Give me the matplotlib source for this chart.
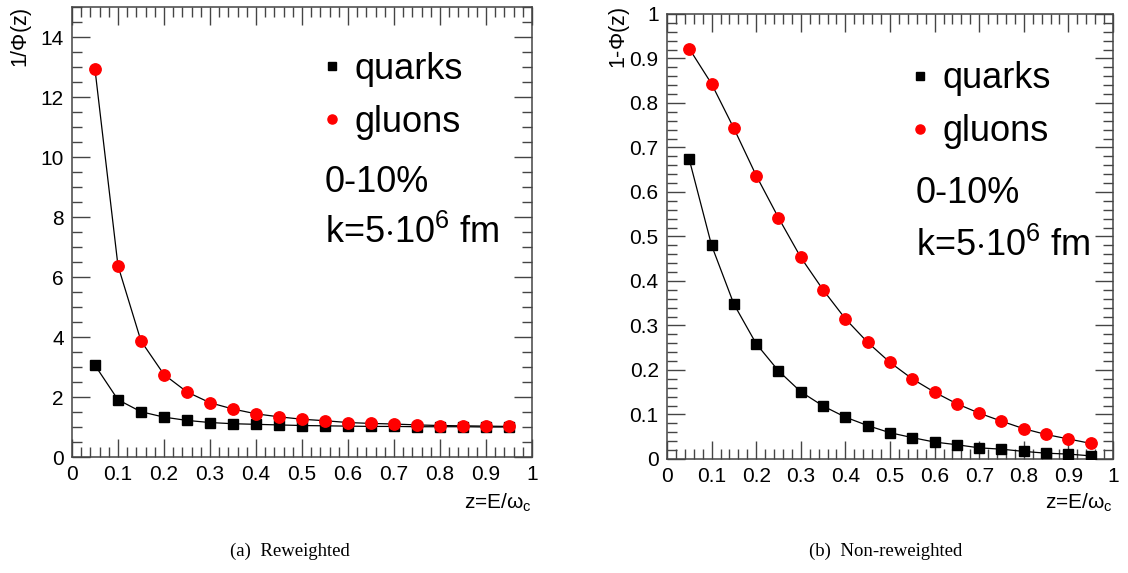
import matplotlib
matplotlib.use("Agg")
from matplotlib import pyplot as plt
from matplotlib.ticker import MultipleLocator, FuncFormatter

plt.rcParams['font.family'] = ['Liberation Sans', 'DejaVu Sans']
plt.rcParams['mathtext.fontset'] = 'custom'
plt.rcParams['mathtext.rm'] = 'Liberation Sans'
plt.rcParams['mathtext.it'] = 'Liberation Sans:italic'

z = [0.05, 0.10, 0.15, 0.20, 0.25, 0.30, 0.35, 0.40, 0.45, 0.50,
     0.55, 0.60, 0.65, 0.70, 0.75, 0.80, 0.85, 0.90, 0.95]

# (a) reweighted: 1/Phi(z)
rw_quarks = [3.06, 1.91, 1.51, 1.33, 1.22, 1.15, 1.11, 1.09, 1.07, 1.05,
             1.04, 1.03, 1.02, 1.02, 1.01, 1.01, 1.01, 1.00, 1.00]
rw_gluons = [12.93, 6.38, 3.87, 2.75, 2.17, 1.81, 1.60, 1.44, 1.34, 1.26,
             1.21, 1.15, 1.12, 1.10, 1.07, 1.05, 1.04, 1.03, 1.02]

# (b) non-reweighted: 1-Phi(z)
nrw_quarks = [0.673, 0.480, 0.348, 0.259, 0.198, 0.151, 0.119, 0.094, 0.075, 0.059,
              0.048, 0.038, 0.032, 0.025, 0.022, 0.017, 0.013, 0.011, 0.007]
nrw_gluons = [0.922, 0.843, 0.743, 0.637, 0.542, 0.453, 0.380, 0.315, 0.262, 0.217,
              0.180, 0.150, 0.124, 0.103, 0.085, 0.068, 0.055, 0.045, 0.035]

frame = '#444444'
fmt = FuncFormatter(lambda v, p: '%g' % round(v, 3))

fig = plt.figure(figsize=(11.28, 5.73), dpi=100)
ax1 = fig.add_axes([0.0638, 0.2024, 0.4078, 0.7853])
ax2 = fig.add_axes([0.5913, 0.1990, 0.3954, 0.7766])


def style(ax, ymax, ymaj, ymin):
    ax.set_xlim(0, 1)
    ax.set_ylim(0, ymax)
    ax.xaxis.set_major_locator(MultipleLocator(0.1))
    ax.xaxis.set_minor_locator(MultipleLocator(0.02))
    ax.yaxis.set_major_locator(MultipleLocator(ymaj))
    ax.yaxis.set_minor_locator(MultipleLocator(ymin))
    ax.xaxis.set_major_formatter(fmt)
    ax.yaxis.set_major_formatter(fmt)
    ax.tick_params(which='both', direction='in', top=True, right=True,
                   color=frame, width=1, labelsize=15, pad=6)
    ax.tick_params(which='major', length=13)
    ax.tick_params(which='minor', length=7)
    for s in ax.spines.values():
        s.set_color(frame)
        s.set_linewidth(1.1)


def draw(ax, quarks, gluons):
    ax.plot(z, quarks, color='black', linewidth=0.9, zorder=2)
    ax.plot(z, gluons, color='black', linewidth=0.9, zorder=2)
    ax.plot(z, quarks, linestyle='none', marker='s', markersize=7.8,
            color='black', label='quarks', zorder=3)
    ax.plot(z, gluons, linestyle='none', marker='o', markersize=8.2,
            color='#ff0000', label='gluons', zorder=3)


style(ax1, 15, 2, 0.5)
style(ax2, 1, 0.1, 0.02)
draw(ax1, rw_quarks, rw_gluons)
draw(ax2, nrw_quarks, nrw_gluons)

for ax, lx, ly, tx, ty1, ty2 in [(ax1, 0.548, 0.901, 0.55, 0.609, 0.497),
                                 (ax2, 0.549, 0.894, 0.558, 0.597, 0.478)]:
    ax.legend(loc='upper left', bbox_to_anchor=(lx, ly), frameon=False,
              fontsize=26, borderpad=0, borderaxespad=0, handlelength=0.45,
              handletextpad=0.4, labelspacing=0.5, markerscale=0.8)
    ax.text(tx, ty1, '0-10%', transform=ax.transAxes, fontsize=26, va='center')
    ax.text(tx, ty2, r'k=5$\cdot$10$^{6}$ fm', transform=ax.transAxes,
            fontsize=26, va='center')

fig.text(22 / 1128, 1 - 7 / 573, r'1/$\Phi$(z)', rotation=90, ha='center', va='top', fontsize=15.5)
fig.text(620 / 1128, 1 - 7 / 573, r'1-$\Phi$(z)', rotation=90, ha='center', va='top', fontsize=15.5)
fig.text(532 / 1128, 1 - 503 / 573, 'z=E/ω$_{\\rm c}$', ha='right', va='center', fontsize=15)
fig.text(1113 / 1128, 1 - 503 / 573, 'z=E/ω$_{\\rm c}$', ha='right', va='center', fontsize=15)

fig.text(290 / 1128, 1 - 551 / 573, '(a)  Reweighted', ha='center', va='center',
         fontsize=13.5, family='Liberation Serif')
fig.text(886 / 1128, 1 - 551 / 573, '(b)  Non-reweighted', ha='center', va='center',
         fontsize=13.5, family='Liberation Serif')

plt.savefig('out.png', dpi=100)
